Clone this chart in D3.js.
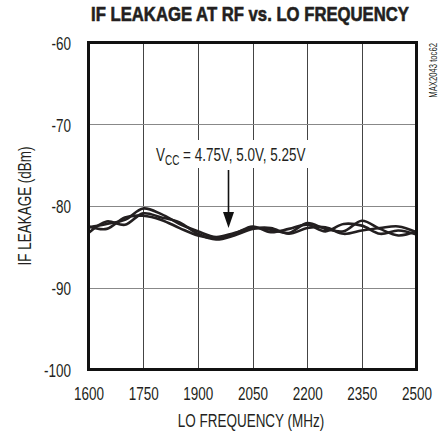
<!DOCTYPE html>
<html><head><meta charset="utf-8">
<script src="https://cdn.jsdelivr.net/npm/d3@7"></script>
<style>
body{margin:0;background:#fff;}
text{font-family:"Liberation Sans",Arial,sans-serif;fill:#231f20;}
</style></head>
<body><svg id="c" width="442" height="433"></svg>
<script>
const freqs = [1600,1650,1700,1750,1800,1850,1900,1950,2000,2050,2100,2150,2200,2250,2300,2350,2400,2450,2500];
const vcc475 = [-82.6,-82.2,-81.7,-80.3,-81.0,-82.2,-83.1,-83.8,-83.3,-82.7,-82.9,-83.3,-82.1,-82.8,-83.1,-81.8,-82.8,-83.6,-83.1];
const vcc500 = [-83.3,-81.9,-82.3,-80.9,-81.4,-82.0,-83.4,-84.1,-83.6,-82.8,-82.7,-83.4,-82.7,-82.6,-83.4,-83.0,-82.7,-82.5,-83.2];
const vcc525 = [-82.5,-82.8,-81.4,-81.2,-81.7,-82.7,-83.6,-83.9,-83.4,-82.5,-83.2,-82.8,-82.3,-83.1,-82.2,-82.4,-83.4,-83.0,-83.5];
const xTicks = [1600,1750,1900,2050,2200,2350,2500];
const yTicks = [-100,-90,-80,-70,-60];

const SX = 0.71, FS = 19;
const svg = d3.select("#c");
const L=88.5, R=416.5, T=42.5, B=369.5;
const x = d3.scaleLinear().domain([1600,2500]).range([L,R]);
const y = d3.scaleLinear().domain([-100,-60]).range([B,T]);

function ctext(px, py, str, opts={}) {
  const t = svg.append("text")
    .attr("transform", `translate(${px},${py})` + (opts.rot ? ` rotate(${opts.rot})` : "") + ` scale(${opts.sx||SX},1)`)
    .attr("font-size", opts.fs||FS)
    .attr("text-anchor", opts.anchor||"middle");
  if (opts.bold) t.attr("font-weight","bold");
  if (str !== null) t.text(str);
  return t;
}

// grid
svg.append("g").selectAll("line").data(xTicks.slice(1,-1)).join("line")
  .attr("x1",d=>Math.round(x(d))+0.5).attr("x2",d=>Math.round(x(d))+0.5).attr("y1",T).attr("y2",B)
  .attr("stroke","#444").attr("stroke-width",1);
svg.append("g").selectAll("line").data(yTicks.slice(1,-1)).join("line")
  .attr("y1",d=>Math.round(y(d))+0.5).attr("y2",d=>Math.round(y(d))+0.5).attr("x1",L).attr("x2",R)
  .attr("stroke","#888").attr("stroke-width",1);

// annotation background
svg.append("rect").attr("x",150).attr("y",140).attr("width",170).attr("height",28).attr("fill","#fff");

// curves
const line = d3.line().x((d,i)=>x(freqs[i])).y(d=>y(d)).curve(d3.curveCatmullRom.alpha(0.5));
[vcc475,vcc500,vcc525].forEach(s=>{
  svg.append("path").attr("d",line(s)).attr("fill","none").attr("stroke","#231f20").attr("stroke-width",2.6);
});

// frame
svg.append("rect").attr("x",L).attr("y",T).attr("width",R-L).attr("height",B-T)
  .attr("fill","none").attr("stroke","#111").attr("stroke-width",3);

// axes
const xa = d3.axisBottom(x).tickValues(xTicks).tickSize(0).tickPadding(0).tickFormat(d3.format("d"));
const gx = svg.append("g").attr("transform",`translate(0,${B+30})`).call(xa);
gx.select(".domain").remove();
gx.selectAll("text").attr("font-size",FS).attr("y",0).attr("dy",0).attr("transform",`scale(${SX},1)`).style("font-family",null).attr("fill","#231f20");

const ya = d3.axisLeft(y).tickValues(yTicks).tickSize(0).tickPadding(0).tickFormat(d=>String(d));
const gy = svg.append("g").attr("transform",`translate(71,0)`).call(ya);
gy.select(".domain").remove();
gy.selectAll("text").attr("font-size",FS).attr("x",0).attr("dy","0.36em").attr("transform",`scale(${SX},1)`).style("font-family",null).attr("fill","#231f20");

ctext(251, 427, "LO FREQUENCY (MHz)");
ctext(31, (T+B)/2, "IF LEAKAGE (dBm)", {rot:-90});

ctext(250, 21, "IF LEAKAGE AT RF vs. LO FREQUENCY", {fs:19.5, sx:0.856, bold:true})
  .attr("stroke","#231f20").attr("stroke-width",0.6);

ctext(437, 43, "MAX2043 toc62", {rot:-90, fs:10, sx:0.77, anchor:"end"});

// annotation
const ann = ctext(156, 161, null, {anchor:"start"});
ann.append("tspan").text("V");
ann.append("tspan").attr("font-size",14).attr("dy",4).text("CC");
ann.append("tspan").attr("dy",-4).text(" = 4.75V, 5.0V, 5.25V");

svg.append("line").attr("x1",228.5).attr("x2",228.5).attr("y1",170).attr("y2",215).attr("stroke","#111").attr("stroke-width",1.6);
svg.append("path").attr("d","M223,212 L234,212 L228.5,228 Z").attr("fill","#111");
</script></body></html>
